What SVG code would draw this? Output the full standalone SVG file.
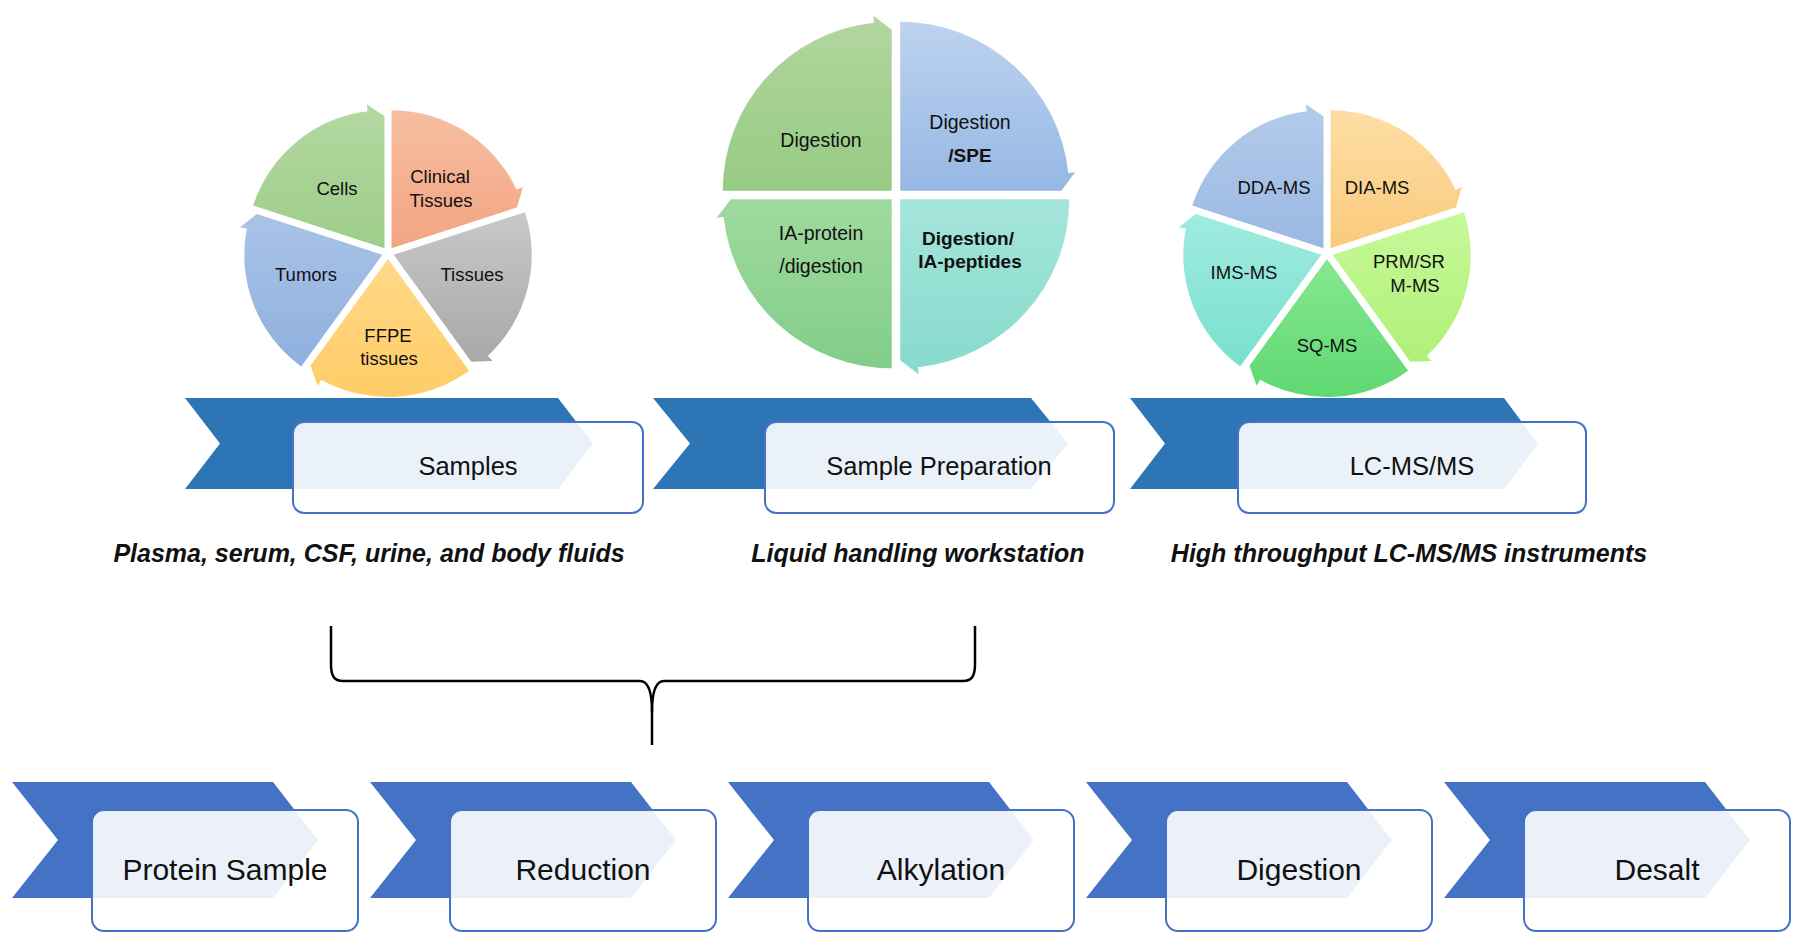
<svg xmlns="http://www.w3.org/2000/svg" width="1800" height="941" viewBox="0 0 1800 941">
<style>
text{font-family:"Liberation Sans",Arial,sans-serif;fill:#111;text-anchor:middle}
.pt{font-size:18.5px}
.pt2{font-size:19.5px}
.b{font-weight:bold;font-size:19px}
.chevT{fill:#2e75b6}
.chevB{fill:#4472c4}
.box{fill:#fff;fill-opacity:0.9;stroke:#4472c4;stroke-width:2}
.lbl{font-size:25.5px}
.lbl2{font-size:30px}
.cap{font-weight:bold;font-style:italic;font-size:25px}
.brace{fill:none;stroke:#000;stroke-width:2.5;stroke-linejoin:round}
</style>
<defs>
<path id="s5" d="M0,0 L0,-138 A138,138 0 0 1 125.07,-58.32 L131.41,-61.28 L125.54,-40.79 Z"/>
<path id="s4" d="M0,0 L0,-169 A169,169 0 0 1 168.07,-17.66 L175.03,-18.40 L161,0 Z"/>
<linearGradient id="g1a" gradientUnits="userSpaceOnUse" x1="0" y1="-145" x2="0" y2="145" gradientTransform="rotate(0)"><stop offset="0" stop-color="#f7bfa3"/><stop offset="1" stop-color="#ee8a60"/></linearGradient>
<linearGradient id="g1b" gradientUnits="userSpaceOnUse" x1="0" y1="-145" x2="0" y2="145" gradientTransform="rotate(-72)"><stop offset="0" stop-color="#dedede"/><stop offset="1" stop-color="#a0a0a0"/></linearGradient>
<linearGradient id="g1c" gradientUnits="userSpaceOnUse" x1="0" y1="-145" x2="0" y2="145" gradientTransform="rotate(-144)"><stop offset="0" stop-color="#ffe4a8"/><stop offset="1" stop-color="#ffcc66"/></linearGradient>
<linearGradient id="g1d" gradientUnits="userSpaceOnUse" x1="0" y1="-145" x2="0" y2="145" gradientTransform="rotate(-216)"><stop offset="0" stop-color="#bcd0ee"/><stop offset="1" stop-color="#88acdc"/></linearGradient>
<linearGradient id="g1e" gradientUnits="userSpaceOnUse" x1="0" y1="-145" x2="0" y2="145" gradientTransform="rotate(-288)"><stop offset="0" stop-color="#b4d8a1"/><stop offset="1" stop-color="#88c274"/></linearGradient>
<linearGradient id="g2a" gradientUnits="userSpaceOnUse" x1="0" y1="-175" x2="0" y2="175" gradientTransform="rotate(0)"><stop offset="0" stop-color="#bed4ef"/><stop offset="1" stop-color="#6f9ad8"/></linearGradient>
<linearGradient id="g2b" gradientUnits="userSpaceOnUse" x1="0" y1="-175" x2="0" y2="175" gradientTransform="rotate(-90)"><stop offset="0" stop-color="#c4f0ea"/><stop offset="1" stop-color="#86dacc"/></linearGradient>
<linearGradient id="g2c" gradientUnits="userSpaceOnUse" x1="0" y1="-175" x2="0" y2="175" gradientTransform="rotate(-180)"><stop offset="0" stop-color="#c0e6b4"/><stop offset="1" stop-color="#80cd88"/></linearGradient>
<linearGradient id="g2d" gradientUnits="userSpaceOnUse" x1="0" y1="-175" x2="0" y2="175" gradientTransform="rotate(-270)"><stop offset="0" stop-color="#b2d69f"/><stop offset="1" stop-color="#7cbf68"/></linearGradient>
<linearGradient id="g3a" gradientUnits="userSpaceOnUse" x1="0" y1="-145" x2="0" y2="145" gradientTransform="rotate(0)"><stop offset="0" stop-color="#fedfa8"/><stop offset="1" stop-color="#f6b550"/></linearGradient>
<linearGradient id="g3b" gradientUnits="userSpaceOnUse" x1="0" y1="-145" x2="0" y2="145" gradientTransform="rotate(-72)"><stop offset="0" stop-color="#d6ffb0"/><stop offset="1" stop-color="#aaee70"/></linearGradient>
<linearGradient id="g3c" gradientUnits="userSpaceOnUse" x1="0" y1="-145" x2="0" y2="145" gradientTransform="rotate(-144)"><stop offset="0" stop-color="#b4f5b0"/><stop offset="1" stop-color="#5cd870"/></linearGradient>
<linearGradient id="g3d" gradientUnits="userSpaceOnUse" x1="0" y1="-145" x2="0" y2="145" gradientTransform="rotate(-216)"><stop offset="0" stop-color="#b8f4ea"/><stop offset="1" stop-color="#72ddcc"/></linearGradient>
<linearGradient id="g3e" gradientUnits="userSpaceOnUse" x1="0" y1="-145" x2="0" y2="145" gradientTransform="rotate(-288)"><stop offset="0" stop-color="#b4cbea"/><stop offset="1" stop-color="#7fa6da"/></linearGradient>
</defs>
<rect width="1800" height="941" fill="#fff"/>

<!-- Pie 1: Samples -->
<g id="pie-samples">
<g id="sec-clinical"><use href="#s5" fill="url(#g1a)" transform="translate(388,253) rotate(0) translate(3.53,-4.85)"/><text class="pt" x="440" y="183">Clinical</text><text class="pt" x="441" y="207">Tissues</text></g>
<g id="sec-tissues"><use href="#s5" fill="url(#g1b)" transform="translate(388,253) rotate(72) translate(3.53,-4.85)"/><text class="pt" x="472" y="281">Tissues</text></g>
<g id="sec-ffpe"><use href="#s5" fill="url(#g1c)" transform="translate(388,253) rotate(144) translate(3.53,-4.85)"/><text class="pt" x="388" y="342">FFPE</text><text class="pt" x="389" y="365">tissues</text></g>
<g id="sec-tumors"><use href="#s5" fill="url(#g1d)" transform="translate(388,253) rotate(216) translate(3.53,-4.85)"/><text class="pt" x="306" y="281">Tumors</text></g>
<g id="sec-cells"><use href="#s5" fill="url(#g1e)" transform="translate(388,253) rotate(288) translate(3.53,-4.85)"/><text class="pt" x="337" y="195">Cells</text></g>
</g>

<!-- Pie 2: Sample preparation -->
<g id="pie-prep">
<g id="q-spe"><use href="#s4" fill="url(#g2a)" transform="translate(896,195) rotate(0) translate(4.24,-4.24)"/><text class="pt2" x="970" y="129">Digestion</text><text class="b" x="970" y="162">/SPE</text></g>
<g id="q-iapep"><use href="#s4" fill="url(#g2b)" transform="translate(896,195) rotate(90) translate(4.24,-4.24)"/><text class="b" x="968" y="245">Digestion/</text><text class="b" x="970" y="268">IA-peptides</text></g>
<g id="q-iaprot"><use href="#s4" fill="url(#g2c)" transform="translate(896,195) rotate(180) translate(4.24,-4.24)"/><text class="pt2" x="821" y="240">IA-protein</text><text class="pt2" x="821" y="273">/digestion</text></g>
<g id="q-dig"><use href="#s4" fill="url(#g2d)" transform="translate(896,195) rotate(270) translate(4.24,-4.24)"/><text class="pt2" x="821" y="147">Digestion</text></g>
</g>

<!-- Pie 3: LC-MS/MS -->
<g id="pie-lcms">
<g id="sec-dia"><use href="#s5" fill="url(#g3a)" transform="translate(1327,253) rotate(0) translate(3.53,-4.85)"/><text class="pt" x="1377" y="194">DIA-MS</text></g>
<g id="sec-prm"><use href="#s5" fill="url(#g3b)" transform="translate(1327,253) rotate(72) translate(3.53,-4.85)"/><text class="pt" x="1409" y="268">PRM/SR</text><text class="pt" x="1415" y="292">M-MS</text></g>
<g id="sec-sq"><use href="#s5" fill="url(#g3c)" transform="translate(1327,253) rotate(144) translate(3.53,-4.85)"/><text class="pt" x="1327" y="352">SQ-MS</text></g>
<g id="sec-ims"><use href="#s5" fill="url(#g3d)" transform="translate(1327,253) rotate(216) translate(3.53,-4.85)"/><text class="pt" x="1244" y="279">IMS-MS</text></g>
<g id="sec-dda"><use href="#s5" fill="url(#g3e)" transform="translate(1327,253) rotate(288) translate(3.53,-4.85)"/><text class="pt" x="1274" y="194">DDA-MS</text></g>
</g>

<!-- Top row banners -->
<g id="step-samples">
<path class="chevT" d="M185,398 L558,398 L593,443.5 L558,489 L185,489 L220,443.5 Z"/>
<rect class="box" x="293" y="422" width="350" height="91" rx="11"/>
<text class="lbl" x="468" y="475">Samples</text>
</g>
<g id="step-prep">
<path class="chevT" d="M653,398 L1031,398 L1068,443.5 L1031,489 L653,489 L690,443.5 Z"/>
<rect class="box" x="765" y="422" width="349" height="91" rx="11"/>
<text class="lbl" x="939" y="475">Sample Preparation</text>
</g>
<g id="step-lcms">
<path class="chevT" d="M1130,398 L1504,398 L1538,443.5 L1504,489 L1130,489 L1165,443.5 Z"/>
<rect class="box" x="1238" y="422" width="348" height="91" rx="11"/>
<text class="lbl" x="1412" y="475">LC-MS/MS</text>
</g>

<!-- Captions -->
<g id="captions">
<text class="cap" x="369" y="562">Plasma, serum, CSF, urine, and body fluids</text>
<text class="cap" x="918" y="562">Liquid handling workstation</text>
<text class="cap" x="1409" y="562">High throughput LC-MS/MS instruments</text>
</g>

<!-- Connectors -->
<g id="connectors">
<path class="brace" d="M331,626 L331,664 C331,676 334,681 343,681 L640,681 C648,681 652,690 652,712 L652,745"/>
<path class="brace" d="M652,712 C652,690 656,681 664,681 L963,681 C972,681 975,676 975,664 L975,626"/>
</g>

<!-- Bottom row steps -->
<g id="step-protein">
<path class="chevB" d="M12,782 L273,782 L318,840 L273,898 L12,898 L58,840 Z"/>
<rect class="box" x="92" y="810" width="266" height="121" rx="12"/>
<text class="lbl2" x="225" y="880">Protein Sample</text>
</g>
<g id="step-reduction">
<path class="chevB" d="M370,782 L631,782 L676,840 L631,898 L370,898 L416,840 Z"/>
<rect class="box" x="450" y="810" width="266" height="121" rx="12"/>
<text class="lbl2" x="583" y="880">Reduction</text>
</g>
<g id="step-alkylation">
<path class="chevB" d="M728,782 L989,782 L1034,840 L989,898 L728,898 L774,840 Z"/>
<rect class="box" x="808" y="810" width="266" height="121" rx="12"/>
<text class="lbl2" x="941" y="880">Alkylation</text>
</g>
<g id="step-digestion">
<path class="chevB" d="M1086,782 L1347,782 L1392,840 L1347,898 L1086,898 L1132,840 Z"/>
<rect class="box" x="1166" y="810" width="266" height="121" rx="12"/>
<text class="lbl2" x="1299" y="880">Digestion</text>
</g>
<g id="step-desalt">
<path class="chevB" d="M1444,782 L1705,782 L1750,840 L1705,898 L1444,898 L1490,840 Z"/>
<rect class="box" x="1524" y="810" width="266" height="121" rx="12"/>
<text class="lbl2" x="1657" y="880">Desalt</text>
</g>
</svg>
